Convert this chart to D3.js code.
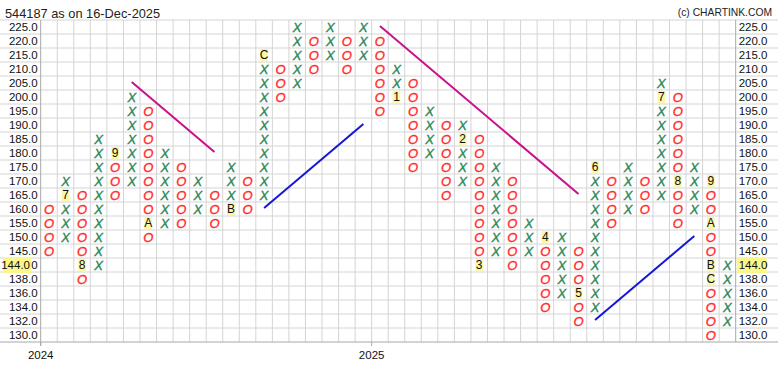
<html lang="en">

<head>
    <meta charset="UTF-8">
    <title>544187 - Point & Figure</title>
    <script src="https://d3js.org/d3.v7.js"></script>
    <style>
        body { margin: 0; background: #fff; }
        text { font-family: "Liberation Sans", Arial, sans-serif; }
    </style>
</head>

<body>
    <div id="chart"></div>

    <script>
        // price boxes, top to bottom (box size changes below 145)
        const rows = [225, 220, 215, 210, 205, 200, 195, 190, 185, 180, 175, 170, 165, 160, 155, 150, 145, 140, 138, 136, 134, 132, 130];

        // one entry per column
        const colType = ["O", "X", "O", "X", "O", "X", "O", "X", "O", "X", "O", "X", "O", "X", "O", "X", "O", "X", "O", "X", "O",
            "X", "O", "X", "O", "X", "O", "X", "O", "X", "O", "X", "O", "X", "O", "X", "O", "X", "O", "X", "O", "X"];
        const colLow = [145, 150, 138, 140, 165, 170, 150, 155, 155, 160, 155, 160, 160, 165, 200, 205, 210, 215, 210, 215, 195,
            200, 175, 180, 165, 170, 140, 145, 140, 145, 134, 136, 132, 134, 155, 160, 160, 165, 155, 160, 130, 132];
        const colHigh = [160, 170, 165, 185, 180, 200, 195, 180, 175, 170, 165, 175, 170, 215, 210, 225, 220, 225, 220, 225, 220,
            210, 205, 195, 190, 190, 185, 175, 170, 155, 150, 150, 145, 175, 170, 175, 170, 205, 200, 175, 170, 140];

        // month markers: [column, box, label]
        const monthMarks = [[1, 165, "7"], [2, 140, "8"], [4, 180, "9"], [6, 155, "A"], [11, 160, "B"], [13, 215, "C"],
            [21, 200, "1"], [25, 185, "2"], [26, 140, "3"], [30, 150, "4"], [32, 136, "5"], [33, 175, "6"],
            [37, 200, "7"], [38, 170, "8"], [40, 170, "9"], [40, 155, "A"], [40, 140, "B"], [40, 138, "C"]];

        // trend lines: [[col, box], [col, box]]
        const resistLines = [[[5, 205], [10, 180]], [[20, 225], [32, 165]]];
        const supportLines = [[[13, 160], [19, 190]], [[33, 132], [39, 150]]];

        const yearCols = [0, 20];
        const yearLabels = ["2024", "2025"];

        const lastPrice = "144.0";
        const lastBox = 140;

        const width = 778, height = 372;
        const plotLeft = 40.7, plotRight = 735.7, plotTop = 20, plotBottom = 342;

        const svg = d3.select("#chart").append("svg")
            .attr("width", width)
            .attr("height", height);

        const x = d3.scaleLinear().domain([0, colType.length]).range([plotLeft, plotRight]);
        const y = d3.scaleBand().domain(rows).range([plotTop, plotBottom]);
        const bw = y.bandwidth();
        const cx = c => x(c + 0.5);
        const cy = v => y(v) + bw / 2;

        // grid
        const grid = svg.append("g").attr("stroke", "#d4d4d4").attr("stroke-width", 1);
        grid.selectAll("line.h")
            .data(rows.map(r => y(r)))
            .join("line")
            .attr("class", "h")
            .attr("x1", 0).attr("x2", width)
            .attr("y1", d => d).attr("y2", d => d);
        grid.selectAll("line.v")
            .data(d3.range(1, colType.length))
            .join("line")
            .attr("class", "v")
            .attr("x1", d => x(d)).attr("x2", d => x(d))
            .attr("y1", plotTop).attr("y2", plotBottom);

        // frame
        const frame = svg.append("g").attr("stroke", "#a8a8a8").attr("stroke-width", 1);
        frame.append("line").attr("x1", plotLeft).attr("x2", plotLeft).attr("y1", plotTop).attr("y2", plotBottom + 4);
        frame.append("line").attr("x1", plotRight).attr("x2", plotRight).attr("y1", plotTop).attr("y2", plotBottom);
        frame.append("line").attr("x1", 0).attr("x2", width).attr("y1", plotBottom).attr("y2", plotBottom);

        // price labels both sides
        const priceFmt = d3.format(".1f");
        svg.append("g").selectAll("text")
            .data(rows)
            .join("text")
            .attr("x", plotLeft - 3)
            .attr("y", d => cy(d) + 4)
            .attr("text-anchor", "end")
            .style("font-size", "11.5px")
            .style("fill", "#111")
            .text(d => priceFmt(d));
        svg.append("g").selectAll("text")
            .data(rows)
            .join("text")
            .attr("x", plotRight + 3)
            .attr("y", d => cy(d) + 4)
            .style("font-size", "11.5px")
            .style("fill", "#111")
            .text(d => priceFmt(d));

        // last price highlight
        svg.append("rect").attr("x", 3).attr("y", cy(lastBox) - 8).attr("width", 28).attr("height", 16).attr("fill", "#fbf78a");
        svg.append("text").attr("x", 30).attr("y", cy(lastBox) + 4).attr("text-anchor", "end")
            .style("font-size", "11.5px").style("fill", "#111").text(lastPrice);
        svg.append("rect").attr("x", plotRight + 1).attr("y", cy(lastBox) - 8).attr("width", 30).attr("height", 16).attr("fill", "#fbf78a");
        svg.append("text").attr("x", plotRight + 3).attr("y", cy(lastBox) + 4)
            .style("font-size", "11.5px").style("fill", "#111").text(lastPrice);

        // year ticks
        const years = svg.append("g");
        years.selectAll("line")
            .data(yearCols)
            .join("line")
            .attr("x1", d => x(d)).attr("x2", d => x(d))
            .attr("y1", plotBottom).attr("y2", plotBottom + 4)
            .attr("stroke", "#a8a8a8");
        years.selectAll("text")
            .data(yearCols)
            .join("text")
            .attr("x", d => x(d))
            .attr("y", plotBottom + 17)
            .attr("text-anchor", "middle")
            .style("font-size", "11.5px")
            .style("fill", "#111")
            .text((d, i) => yearLabels[i]);

        // boxes
        const marks = [];
        colType.forEach((t, c) => {
            rows.forEach(r => {
                if (r >= colLow[c] && r <= colHigh[c] && !monthMarks.find(m => m[0] === c && m[1] === r))
                    marks.push({ c: c, r: r, t: t });
            });
        });
        svg.append("g").selectAll("text")
            .data(marks)
            .join("text")
            .attr("x", d => cx(d.c))
            .attr("y", d => cy(d.r) + 4.8)
            .attr("text-anchor", "middle")
            .style("font-size", "13px")
            .style("font-style", "italic")
            .style("fill", d => d.t === "X" ? "#2a8656" : "#ff2b2b")
            .style("stroke", d => d.t === "X" ? "#2a8656" : "#ff2b2b")
            .style("stroke-width", 0.35)
            .text(d => d.t);

        // month markers
        const mm = svg.append("g").selectAll("g")
            .data(monthMarks)
            .join("g");
        mm.append("rect")
            .attr("x", d => cx(d[0]) - 3.8)
            .attr("y", d => cy(d[1]) - 6)
            .attr("width", 7.6)
            .attr("height", 12)
            .attr("fill", "#fbf7a6");
        mm.append("text")
            .attr("x", d => cx(d[0]))
            .attr("y", d => cy(d[1]) + 4.3)
            .attr("text-anchor", "middle")
            .style("font-size", "12px")
            .style("fill", "#111")
            .text(d => d[2]);

        // trend lines
        const line = d3.line().x(d => cx(d[0])).y(d => cy(d[1]) - 1);
        svg.append("g").selectAll("path")
            .data(resistLines)
            .join("path")
            .attr("d", line)
            .attr("fill", "none")
            .attr("stroke", "#c8108c")
            .attr("stroke-width", 2);
        svg.append("g").selectAll("path")
            .data(supportLines)
            .join("path")
            .attr("d", line)
            .attr("fill", "none")
            .attr("stroke", "#1515d8")
            .attr("stroke-width", 2);

        // titles
        svg.append("text").attr("x", 5).attr("y", 18)
            .style("font-size", "12.8px").style("fill", "#222")
            .text("544187 as on 16-Dec-2025");
        svg.append("text").attr("x", 772).attr("y", 16).attr("text-anchor", "end")
            .style("font-size", "10.3px").style("fill", "#222")
            .text("(c) CHARTINK.COM");
    </script>
</body>

</html>
